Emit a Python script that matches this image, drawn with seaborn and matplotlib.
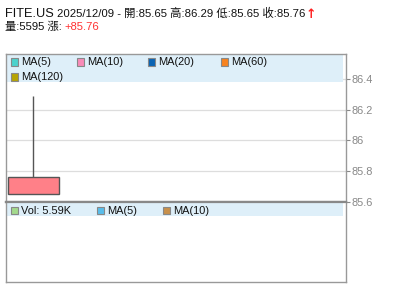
import matplotlib
matplotlib.use("Agg")
import matplotlib.pyplot as plt
from matplotlib.patches import Rectangle
import seaborn as sns
import pandas as pd

# ---- data ----
symbol = "FITE.US"
date = "2025/12/09"
dates = ["2025/12/09"]
opens = [85.65]
highs = [86.29]
lows = [85.65]
closes = [85.76]
volumes = [5595]
change_text = "+85.76"
price_ticks = [85.6, 85.8, 86.0, 86.2, 86.4]
price_tick_labels = ["85.6", "85.8", "86", "86.2", "86.4"]
ma_labels = ["MA(5)", "MA(10)", "MA(20)", "MA(60)", "MA(120)"]
ma_colors = ["#4CD2CC", "#F98BB8", "#0A64B4", "#F7821E", "#B6A404"]
vol_labels = ["Vol: 5.59K", "MA(5)", "MA(10)"]
vol_colors = ["#A3DA8D", "#58BDEB", "#C8904B"]

df = pd.DataFrame({"date": dates, "open": opens, "high": highs,
                   "low": lows, "close": closes, "volume": volumes})
df["idx"] = range(len(df))

sns.set_theme(style="white")
plt.rcParams['font.family'] = ['Liberation Sans', 'Noto Sans CJK TC', 'DejaVu Sans']

W, H = 400, 301
fig = plt.figure(figsize=(W / 100, H / 100), dpi=100)
fig.patch.set_facecolor("white")


def fx(px):
    return px / W


def fy(py):
    return 1 - py / H


top, mid, bot = 54, 201.5, 282
left, right = 5.5, 345.5
ax = fig.add_axes([fx(left), fy(mid), (right - left) / W, (mid - top) / H])
axv = fig.add_axes([fx(left), fy(bot), (right - left) / W, (bot - mid) / H])

# ---- price panel ----
ax.set_ylim(85.6, 86.567)
ax.set_xlim(-0.444, 4.95)
ax.set_yticks(price_ticks)
ax.set_yticklabels(price_tick_labels)
ax.yaxis.tick_right()
ax.tick_params(axis="y", length=3, width=0.8, color="#888888", labelcolor="#888888",
               labelsize=7.9, pad=1, right=True, left=False)
ax.set_xticks([])
ax.grid(axis="y", color="#dddddd", lw=0.9)
ax.set_axisbelow(True)
for s in ax.spines.values():
    s.set_color("#999999")
    s.set_linewidth(1)
ax.spines["bottom"].set_color("#888888")
ax.spines["bottom"].set_linewidth(1.6)

up = df["close"] >= df["open"]
ax.vlines(df["idx"], df["low"], df["high"], color="#555555", lw=1, zorder=2)
body_bottom = df[["open", "close"]].min(axis=1)
body_h = (df["close"] - df["open"]).abs()
ax.bar(df["idx"], body_h, bottom=body_bottom, width=0.8,
       color=["#FF8088" if u else "#4CAF50" for u in up],
       edgecolor="#555555", lw=1, zorder=3)

# legend band price
band_h = (81.5 - top) / (mid - top)
ax.add_patch(Rectangle((0, 1 - band_h), 0.992, band_h, transform=ax.transAxes,
                       facecolor="#DEEFF9", edgecolor="none", zorder=1.5))

# ---- volume panel ----
axv.set_xticks([])
axv.set_yticks([])
axv.set_xlim(-0.444, 4.95)
for s in axv.spines.values():
    s.set_color("#999999")
    s.set_linewidth(1)
axv.spines["top"].set_color("#888888")
axv.spines["top"].set_linewidth(1.6)
vband_h = (216 - 203) / (bot - mid)
axv.add_patch(Rectangle((0, 1 - (216 - mid) / (bot - mid)), 0.992, vband_h,
                        transform=axv.transAxes, facecolor="#DEEFF9",
                        edgecolor="none", zorder=1))


# ---- legends ----
def legend_item(sx, cy, color, label):
    fig.add_artist(Rectangle((fx(sx), fy(cy + 3.5)), 7 / W, 7 / H,
                             transform=fig.transFigure, facecolor=color,
                             edgecolor="#888888", lw=0.8))
    fig.text(fx(sx + 10), fy(cy), label, fontsize=7.9, va="center", ha="left",
             color="#111111")


ma_pos = [(11, 62), (77, 62), (148, 62), (221, 62), (11, 77)]
for (sx, cy), c, l in zip(ma_pos, ma_colors, ma_labels):
    legend_item(sx, cy, c, l)

vol_pos = [(11, 210.5), (97, 210.5), (163, 210.5)]
for (sx, cy), c, l in zip(vol_pos, vol_colors, vol_labels):
    legend_item(sx, cy, c, l)

# ---- header ----
r = df.iloc[0]
fig.text(fx(5), fy(17.3), symbol, fontsize=9.2, va="baseline", ha="left", color="#111111")
fig.text(fx(57.3), fy(17.3),
         f"{date} - 開:{r['open']:.2f} 高:{r['high']:.2f} 低:{r['low']:.2f} 收:{r['close']:.2f}",
         fontsize=8.2, va="baseline", ha="left", color="#111111")
fig.text(fx(306), fy(18.5), "↑", fontsize=9, fontweight="bold", va="baseline",
         ha="left", color="#FF2020", family=["DejaVu Sans"])
fig.text(fx(5), fy(29.5), f"量:{int(r['volume'])} 漲:", fontsize=8.1, va="baseline",
         ha="left", color="#111111")
fig.text(fx(64.5), fy(29.5), change_text, fontsize=8.1, va="baseline", ha="left",
         color="#FF3030")

fig.savefig("out.png", dpi=100, facecolor="white")
